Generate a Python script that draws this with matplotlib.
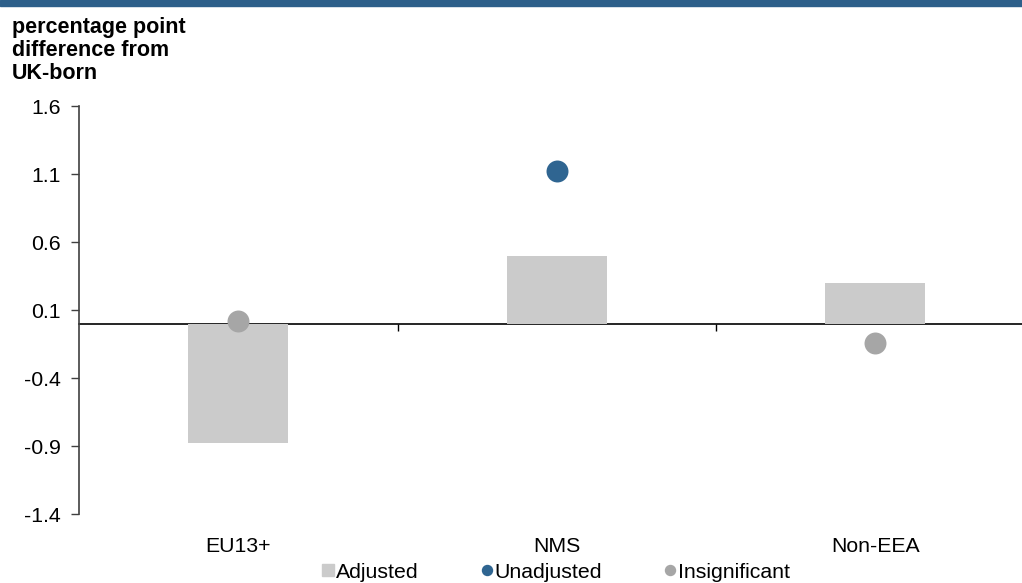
import numpy as np
import matplotlib
matplotlib.use("Agg")
import matplotlib.pyplot as plt
from matplotlib.patches import Rectangle
from matplotlib.lines import Line2D

plt.rcParams["font.family"] = ["Liberation Sans", "DejaVu Sans"]

categories = ["EU13+", "NMS", "Non-EEA"]
adjusted = [-0.88, 0.50, 0.30]
unadjusted = [np.nan, 1.12, np.nan]        # significant estimates
insignificant = [0.02, np.nan, -0.14]      # not significant
yticks = [-1.4, -0.9, -0.4, 0.1, 0.6, 1.1, 1.6]

BLUE = "#2f6591"
BAR = "#cbcbcb"
DOT = "#a6a6a6"
FS = 15.3

fig = plt.figure(figsize=(10.22, 5.83), dpi=100)
ax = fig.add_axes([79 / 1022, 1 - 514 / 583, 943 / 1022, 408 / 583])

# top band
fig.patches.append(Rectangle((0, 1 - 6 / 583), 1, 6 / 583, transform=fig.transFigure,
                             color="#2d5f8a", zorder=0))

x = np.arange(len(categories))
ax.bar(x, adjusted, width=0.314, color=BAR, zorder=2)
ax.scatter(x, unadjusted, s=250, color=BLUE, zorder=4, linewidths=0)
ax.scatter(x, insignificant, s=250, color=DOT, zorder=4, linewidths=0)

ylo, yhi = -1.4, 1.6
ax.set_ylim(ylo, yhi)
ax.set_xlim(-0.5, -0.5 + 943 / 318.5)
ax.set_yticks(yticks)
ax.set_yticklabels([f"{v:.1f}" for v in yticks], fontsize=FS)
ax.tick_params(axis="y", length=6, width=1, color="#404040", pad=7)

# category labels at the bottom, no tick marks
ax.set_xticks(x)
ax.set_xticklabels(categories, fontsize=FS)
ax.tick_params(axis="x", length=0, pad=16.5)

for side in ["top", "right", "bottom"]:
    ax.spines[side].set_visible(False)
ax.spines["left"].set_color("#404040")
ax.spines["left"].set_linewidth(1.2)

# zero line with boundary ticks
sec = ax.secondary_xaxis((0 - ylo) / (yhi - ylo))
sec.set_xticks([0.5, 1.5])
sec.set_xticklabels(["", ""])
sec.tick_params(length=5, width=1, color="black", direction="out")
sec.spines["bottom"].set_color("black")
sec.spines["bottom"].set_linewidth(1.2)
sec.spines["bottom"].set_zorder(3)

fig.text(12 / 1022, 1 - 17 / 583, "percentage point\ndifference from\nUK-born",
         ha="left", va="top", fontsize=15.5, fontweight="bold", linespacing=1.12)

handles = [
    Line2D([], [], marker="s", linestyle="none", color=BAR, markersize=8),
    Line2D([], [], marker="o", linestyle="none", color=BLUE, markersize=7.2),
    Line2D([], [], marker="o", linestyle="none", color=DOT, markersize=7.2),
]
fig.legend(handles, ["Adjusted", "Unadjusted", "Insignificant"], loc="center",
           bbox_to_anchor=(556 / 1022, 1 - 572 / 583), ncol=3, frameon=False,
           fontsize=FS, handletextpad=0.08, columnspacing=2.9, handlelength=0.6,
           borderpad=0)

fig.savefig("out.png", dpi=100)
